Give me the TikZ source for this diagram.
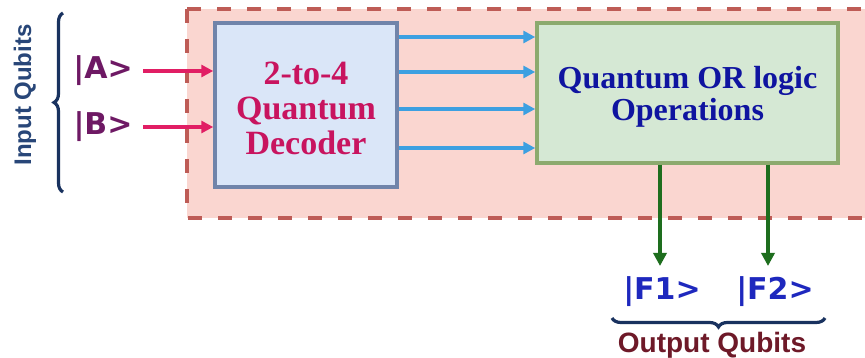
\documentclass[tikz,border=0pt]{standalone}
\usepackage{fontspec}
\setmainfont{Liberation Serif}
\setsansfont{Liberation Sans}
\newfontfamily\djv{DejaVu Sans}
\usetikzlibrary{arrows.meta,decorations.pathreplacing}
\definecolor{outerfill}{RGB}{250,214,208}
\definecolor{outerdash}{RGB}{190,92,86}
\definecolor{decfill}{RGB}{218,230,248}
\definecolor{decdraw}{RGB}{112,132,170}
\definecolor{dectext}{RGB}{200,20,95}
\definecolor{orfill}{RGB}{213,232,212}
\definecolor{ordraw}{RGB}{140,170,110}
\definecolor{ortext}{RGB}{15,20,160}
\definecolor{bluearr}{RGB}{60,160,225}
\definecolor{redarr}{RGB}{225,30,100}
\definecolor{greenarr}{RGB}{30,110,30}
\definecolor{intext}{RGB}{110,25,100}
\definecolor{outtext}{RGB}{30,40,190}
\definecolor{inlabel}{RGB}{40,70,120}
\definecolor{outlabel}{RGB}{110,25,40}
\definecolor{bracecol}{RGB}{25,50,95}
\begin{document}
\begin{tikzpicture}[x=1pt,y=-1pt,
  outerbox/.style={fill=outerfill,draw=outerdash,line width=4pt,dash pattern=on 14pt off 16pt},
  decbox/.style={draw=decdraw,fill=decfill,line width=3.5pt,minimum width=182pt,minimum height=164pt,inner sep=0pt},
  dectxt/.style={inner sep=0pt,align=center,text=dectext,font=\bfseries\fontsize{34}{35}\selectfont},
  orbox/.style={draw=ordraw,fill=orfill,line width=3.5pt,minimum width=301pt,minimum height=140pt,inner sep=0pt},
  ortxt/.style={inner sep=0pt,align=center,text=ortext,font=\bfseries\fontsize{32}{32}\selectfont},
  qubit/.style={inner sep=0pt,font=\djv\bfseries\fontsize{30}{30}\selectfont},
  grouplabel/.style={inner sep=0pt,font=\sffamily\bfseries},
  barrow/.style={draw=bluearr,line width=3.2pt,-{Triangle[length=12pt,width=12pt]}},
  rarrow/.style={draw=redarr,line width=3.2pt,-{Triangle[length=12pt,width=12pt]}},
  garrow/.style={draw=greenarr,line width=3.5pt,-{Triangle[length=13pt,width=13pt]}},
  qbrace/.style={draw=bracecol,line width=3.2pt,decorate,decoration={brace,amplitude=9pt}}
]
\useasboundingbox (0,0) rectangle (865,358);
\fill[white] (0,0) rectangle (865,358);
\draw[outerbox] (187,9) rectangle (885,218);

\node[decbox] (dec) at (306,105) {};
\node[dectxt] (dect) at (306,108) {2-to-4\\Quantum\\Decoder};
\node[orbox] (or) at (687.5,93) {};
\node[ortxt] (ort) at (687.5,97) {Quantum OR logic\\Operations};

\node[qubit,text=intext] (qa) at (103,71) {|A>};
\node[qubit,text=intext] (qb) at (103,127) {|B>};
\draw[rarrow] (143,71) coordinate (qas) -- (dec.west |- qas);
\draw[rarrow] (143,127) coordinate (qbs) -- (dec.west |- qbs);

\foreach \yy in {37,72,109,148}{
  \draw[barrow] (dec.east |- 0,\yy) -- (or.west |- 0,\yy);
}

\node[qubit,text=outtext] (f1) at (662,292) {|F1>};
\node[qubit,text=outtext] (f2) at (775,292) {|F2>};
\coordinate (g1) at (660,266);
\coordinate (g2) at (768,266);
\draw[garrow] (or.south -| g1) -- (g1);
\draw[garrow] (or.south -| g2) -- (g2);

\coordinate (ibt) at (63,13);
\coordinate (ibb) at (63,192);
\draw[qbrace] (ibb) -- (ibt);
\node[grouplabel,text=inlabel,rotate=90,font=\sffamily\bfseries\fontsize{24}{24}\selectfont] (inl) at (25,95) {Input Qubits};

\coordinate (obl) at (612,318);
\coordinate (obr) at (825,318);
\draw[qbrace] (obr) -- (obl);
\node[grouplabel,text=outlabel,font=\sffamily\bfseries\fontsize{28}{28}\selectfont] (outl) at (712,345) {Output Qubits};
\end{tikzpicture}
\end{document}
